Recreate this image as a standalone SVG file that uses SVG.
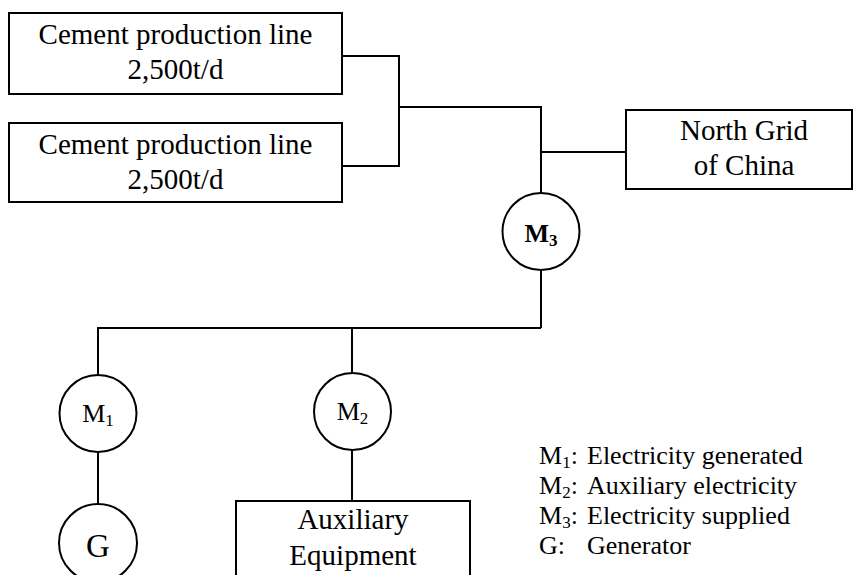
<svg xmlns="http://www.w3.org/2000/svg" width="854" height="575" viewBox="0 0 854 575">
<style>
.box{fill:#fff;stroke:#000;stroke-width:2}
.cir{fill:#fff;stroke:#000;stroke-width:2}
.ln{fill:none;stroke:#000;stroke-width:2}
text{font-family:"Liberation Serif","Times New Roman",serif;fill:#000}
.t{font-size:29px;text-anchor:middle}
.c{font-size:26px;text-anchor:middle}
.lg{font-size:26px}
.sub{font-size:17px}
.gg{font-size:33px;text-anchor:middle}
</style>
<rect width="854" height="575" fill="#fff"/>
<g id="connectors">
<polyline class="ln" points="342,56 399,56 399,166 342,166"/>
<polyline class="ln" points="399,107 541,107 541,193"/>
<line class="ln" x1="541" y1="152" x2="626" y2="152"/>
<line class="ln" x1="541" y1="270" x2="541" y2="328"/>
<polyline class="ln" points="98,375 98,328 541,328"/>
<line class="ln" x1="352" y1="328" x2="352" y2="373"/>
<line class="ln" x1="352" y1="450" x2="352" y2="501"/>
<line class="ln" x1="98" y1="452" x2="98" y2="504"/>
</g>
<g id="cement1">
<rect class="box" x="9" y="13" width="333" height="81"/>
<text class="t" x="175.5" y="44">Cement production line</text>
<text class="t" x="175.5" y="79">2,500t/d</text>
</g>
<g id="cement2">
<rect class="box" x="9" y="123" width="333" height="79"/>
<text class="t" x="175.5" y="154">Cement production line</text>
<text class="t" x="175.5" y="189">2,500t/d</text>
</g>
<g id="grid">
<rect class="box" x="626" y="110" width="226" height="79"/>
<text class="t" x="744" y="140">North Grid</text>
<text class="t" x="744" y="175">of China</text>
</g>
<g id="m3">
<circle class="cir" cx="541" cy="231.5" r="38.5"/>
<text class="c" x="541" y="242" font-weight="bold">M<tspan class="sub" dy="4">3</tspan></text>
</g>
<g id="m1">
<circle class="cir" cx="98" cy="413.5" r="38.5"/>
<text class="c" x="98" y="422">M<tspan class="sub" dy="4">1</tspan></text>
</g>
<g id="m2">
<circle class="cir" cx="352.5" cy="411.5" r="38.5"/>
<text class="c" x="352.5" y="420">M<tspan class="sub" dy="4">2</tspan></text>
</g>
<g id="g">
<circle class="cir" cx="98" cy="543" r="39"/>
<text class="gg" x="98" y="557">G</text>
</g>
<g id="aux">
<rect class="box" x="236" y="501" width="234" height="90"/>
<text class="t" x="353" y="529">Auxiliary</text>
<text class="t" x="353" y="565">Equipment</text>
</g>
<g id="legend">
<text class="lg" x="539" y="464">M<tspan class="sub" dy="4">1</tspan><tspan dy="-4">:</tspan></text>
<text class="lg" x="587" y="464">Electricity generated</text>
<text class="lg" x="539" y="494">M<tspan class="sub" dy="4">2</tspan><tspan dy="-4">:</tspan></text>
<text class="lg" x="587" y="494">Auxiliary electricity</text>
<text class="lg" x="539" y="524">M<tspan class="sub" dy="4">3</tspan><tspan dy="-4">:</tspan></text>
<text class="lg" x="587" y="524">Electricity supplied</text>
<text class="lg" x="539" y="554">G:</text>
<text class="lg" x="587" y="554">Generator</text>
</g>
</svg>
